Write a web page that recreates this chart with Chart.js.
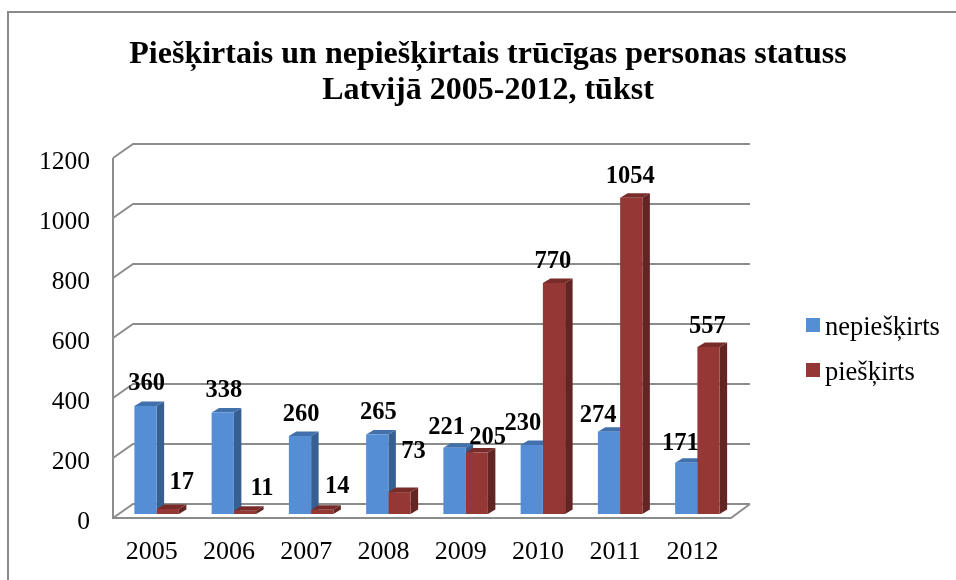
<!DOCTYPE html>
<html>
<head>
<meta charset="utf-8">
<style>
html, body { margin: 0; padding: 0; background: #fff; }
#wrap { position: relative; width: 956px; height: 580px; overflow: hidden; }
#frame { position: absolute; left: 7px; top: 11px; width: 960px; height: 580px; border-left: 2px solid #8a8a8a; border-top: 2px solid #8a8a8a; }
canvas { position: absolute; left: 0; top: 0; }
</style>
</head>
<body>
<div id="wrap">
  <div id="frame"></div>
  <canvas id="chart" width="956" height="580"></canvas>
</div>
<script src="https://cdn.jsdelivr.net/npm/chart.js@4/dist/chart.umd.min.js"></script>
<script>
const years = ['2005', '2006', '2007', '2008', '2009', '2010', '2011', '2012'];
const nepieskirts = [360, 338, 260, 265, 221, 230, 274, 171];
const pieskirts = [17, 11, 14, 73, 205, 770, 1054, 557];
const titleLines = ['Piešķirtais un nepiešķirtais trūcīgas personas statuss', 'Latvijā 2005-2012, tūkst'];

const serif = '"Liberation Serif", "Times New Roman", serif';

// label nudges from the top centre of each bar, the original labels were moved by hand
const blueNudge = [[1, -22.5], [1, -21.5], [1, -21.5], [1, -21.5], [-8, -20.5], [-9, -21.5], [-11, -16.5], [-6, -19.5]];
const redNudge = [[14, -26.5], [17, -22.5], [15, -23.5], [14, -40.5], [11, -14.5], [-1, -21.5], [-1, -21.5], [-1, -20.5]];

const barShift = 5;   // bars sit a bit right of the category centre because of the 3d floor
const sideX = 7.5, sideY = 4.5;
const wallX = 20, wallFront = 4, wallBack = 10;

const shade = {
    '#558ED5': { side: '#376092', top: '#4170AB' },
    '#953735': { side: '#632523', top: '#772C2A' }
};

function fillQuad(ctx, pts, color) {
    ctx.fillStyle = color;
    ctx.beginPath();
    ctx.moveTo(pts[0][0], pts[0][1]);
    for (let i = 1; i < pts.length; i++) ctx.lineTo(pts[i][0], pts[i][1]);
    ctx.closePath();
    ctx.fill();
}

const fake3d = {
    id: 'fake3d',
    afterLayout(chart) {
        // center the title over the whole picture, not over the plot
        chart.titleBlock.left = 0;
        chart.titleBlock.right = 976;
    },
    beforeDatasetsDraw(chart) {
        const { ctx } = chart;
        const x = chart.scales.x, y = chart.scales.y;
        const l = x.left, r = x.right;
        ctx.save();
        ctx.strokeStyle = '#8c8c8c';
        ctx.lineWidth = 2;
        y.ticks.forEach(t => {
            const p = y.getPixelForValue(t.value);
            ctx.beginPath();
            ctx.moveTo(l, p + wallFront);
            ctx.lineTo(l + wallX, p - wallBack);
            ctx.lineTo(r + wallX - 1, p - wallBack);
            ctx.stroke();
        });
        const top = y.getPixelForValue(1200) + wallFront;
        const bottom = y.getPixelForValue(0) + wallFront;
        ctx.beginPath();
        ctx.moveTo(l, top);
        ctx.lineTo(l, bottom);
        ctx.lineTo(r, bottom);
        ctx.lineTo(r + wallX - 1, bottom - wallFront - wallBack);
        ctx.stroke();

        // sides and tops go under all the faces, blue first so the red face hides the blue side
        ctx.translate(barShift, 0);
        chart.data.datasets.forEach((ds, i) => {
            const colors = shade[ds.backgroundColor];
            chart.getDatasetMeta(i).data.forEach(bar => {
                const left = bar.x - bar.width / 2, right = bar.x + bar.width / 2;
                fillQuad(ctx, [[right, bar.y], [right + sideX, bar.y - sideY], [right + sideX, bar.base - sideY], [right, bar.base]], colors.side);
                fillQuad(ctx, [[left, bar.y], [left + sideX, bar.y - sideY], [right + sideX, bar.y - sideY], [right, bar.y]], colors.top);
            });
        });
        ctx.restore();
    },
    beforeDatasetDraw(chart) {
        chart.ctx.save();
        chart.ctx.translate(barShift, 0);
    },
    afterDatasetDraw(chart) {
        chart.ctx.restore();
    },
    afterDatasetsDraw(chart) {
        const { ctx } = chart;
        ctx.save();
        ctx.fillStyle = '#000';
        ctx.font = 'bold 24.5px ' + serif;
        ctx.textAlign = 'center';
        ctx.textBaseline = 'middle';
        chart.data.datasets.forEach((ds, i) => {
            const nudge = i === 0 ? blueNudge : redNudge;
            chart.getDatasetMeta(i).data.forEach((bar, j) => {
                ctx.fillText(ds.data[j], bar.x + barShift + nudge[j][0], bar.y + nudge[j][1]);
            });
        });
        // legend
        ctx.font = '26.5px ' + serif;
        ctx.textAlign = 'left';
        chart.data.datasets.forEach((ds, i) => {
            const rowY = 325 + i * 45;
            ctx.fillStyle = ds.backgroundColor;
            ctx.fillRect(806, rowY - 7, 14, 14);
            ctx.fillStyle = '#000';
            ctx.fillText(ds.label, 825, rowY + 3);
        });
        ctx.restore();
    }
};

new Chart(document.getElementById('chart'), {
    type: 'bar',
    data: {
        labels: years,
        datasets: [
            { label: 'nepiešķirts', data: nepieskirts, backgroundColor: '#558ED5', clip: false },
            { label: 'piešķirts', data: pieskirts, backgroundColor: '#953735', clip: false }
        ]
    },
    options: {
        responsive: false,
        animation: false,
        layout: { padding: { left: 40, right: 225, top: 0, bottom: 13 } },
        datasets: { bar: { categoryPercentage: 0.576, barPercentage: 1 } },
        plugins: {
            legend: { display: false },
            tooltip: { enabled: false },
            title: {
                display: true,
                text: titleLines,
                color: '#000',
                font: { family: serif, size: 32, weight: 'bold', lineHeight: 1.125 },
                padding: { top: 37, bottom: 45 }
            }
        },
        scales: {
            x: {
                grid: { display: false, drawTicks: false },
                border: { display: false },
                afterFit(s) { s.height = 53; },
                ticks: { color: '#000', font: { family: serif, size: 26 }, padding: 23, maxRotation: 0 }
            },
            y: {
                min: 0,
                max: 1200,
                grid: { display: false, drawTicks: false },
                border: { display: false },
                afterFit(s) { s.width = 73; },
                ticks: { color: '#000', font: { family: serif, size: 25.5 }, stepSize: 200, padding: 23, labelOffset: 8, callback: v => String(v) }
            }
        }
    },
    plugins: [fake3d]
});
</script>
</body>
</html>
